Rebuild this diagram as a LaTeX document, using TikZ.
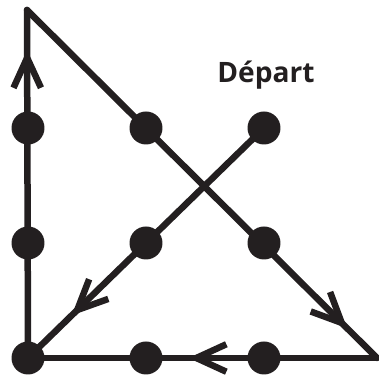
\documentclass[tikz,border=0pt]{standalone}
\usepackage{fontspec}
\setsansfont{Open Sans}
\usetikzlibrary{arrows.meta,decorations.markings}
\definecolor{ink}{HTML}{231F20}
\tikzset{
  dot/.style={circle,fill=ink,inner sep=0pt,minimum size=0.66cm},
  trait/.style={draw=ink,line width=0.13cm,line cap=round,line join=miter},
  midarrow/.style={postaction={decorate,decoration={markings,
      mark=at position #1 with {\arrow[ink]{Straight Barb[length=0.6cm,width=0.55cm]}}}}}
}

\begin{document}
\begin{tikzpicture}[x=0.02cm,y=-0.02cm]
	\useasboundingbox (0,0) rectangle (379,377);
	\node[dot] at (28,128) (A1) {};
	\node[dot] at (146,128) (B1) {};
	\node[dot] at (264,128) (C1) {};
	\node[dot] at (28,243) (A2) {};
	\node[dot] at (146,243) (B2) {};
	\node[dot] at (264,243) (C2) {};
	\node[dot] at (28,358) (A3) {};
	\node[dot] at (146,358) (B3) {};
	\node[dot] at (264,358) (C3) {};
	\coordinate (TL) at (27,10);
	\coordinate (BR) at (377,358);
	\node[text=ink,font=\sffamily\bfseries\fontsize{16}{18}\selectfont] at (266,75) (D) {Départ};
	\draw[trait,midarrow=0.815] (C1.center) -- (A3.center);
	\draw[trait,midarrow=0.885] (A3.center) -- (TL);
	\draw[trait,midarrow=0.915] (TL) -- (BR);
	\draw[trait,midarrow=0.54] (BR) -- (A3.center);
    \end{tikzpicture}
\end{document}
